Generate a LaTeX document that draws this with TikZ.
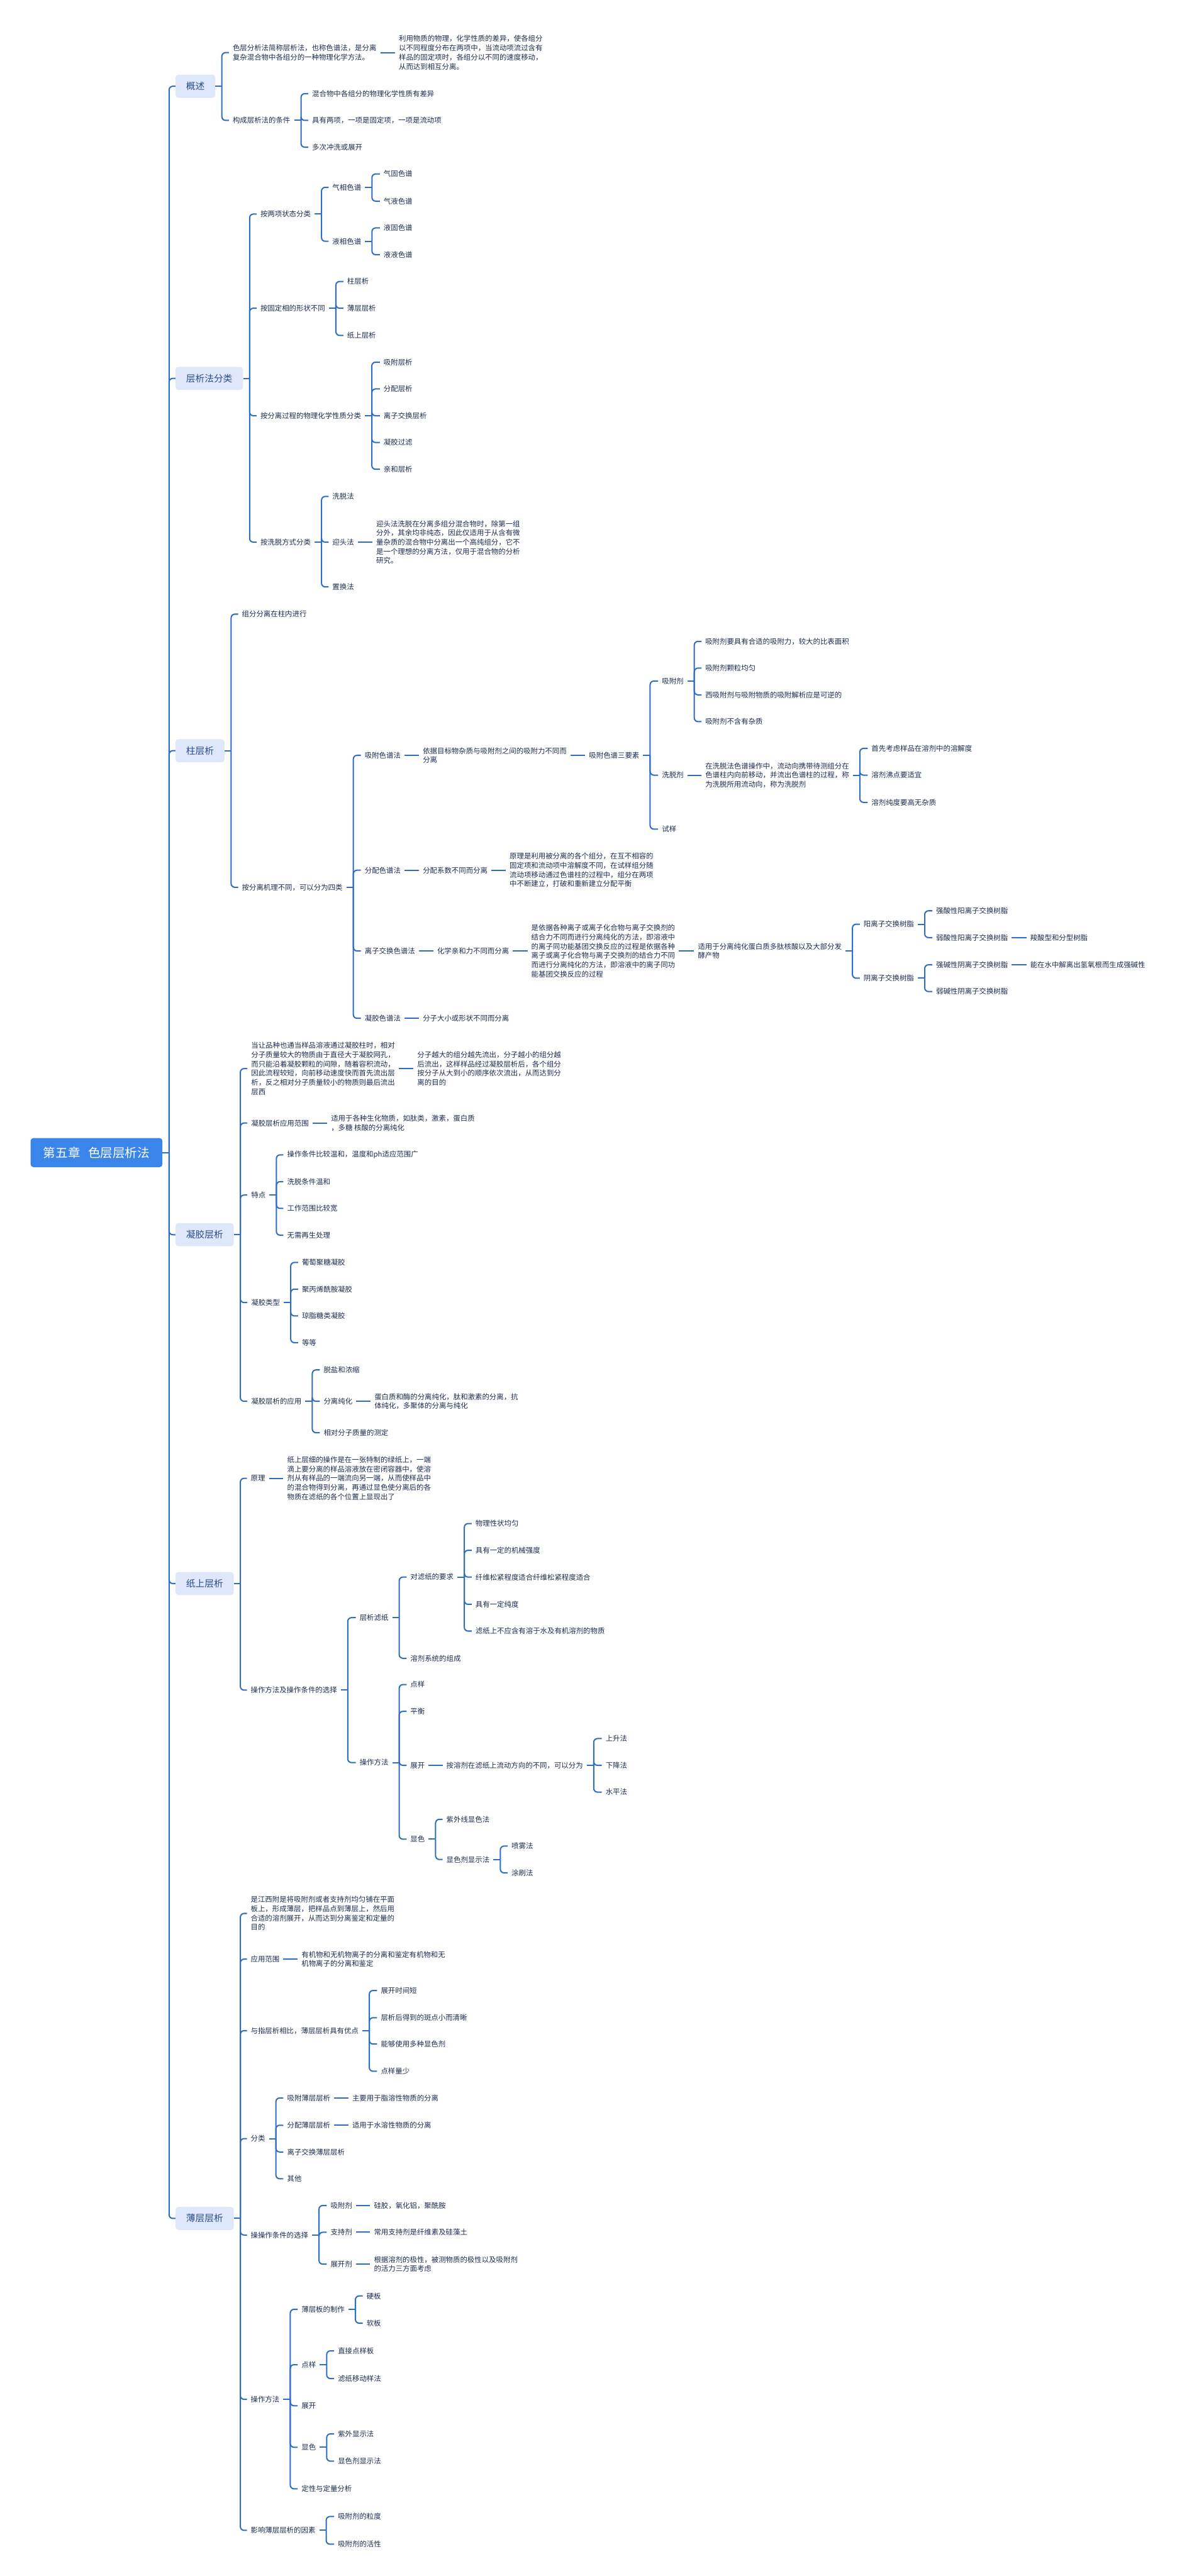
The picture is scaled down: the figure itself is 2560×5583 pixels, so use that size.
\documentclass[tikz,border=0pt]{standalone}
\usepackage{fontspec}
\setmainfont{Noto Sans CJK SC}
\usepackage{xcolor, tikz}
\definecolor{rootblue}{HTML}{3A85EA}
\definecolor{topicfill}{HTML}{DFE8FA}
\definecolor{topictext}{HTML}{2A4C8C}
\definecolor{leaftext}{HTML}{1C2B4F}
\definecolor{linkblue}{HTML}{2F6DC0}
\tikzstyle{rootbox} = [rectangle, rounded corners=0.12cm, fill=rootblue, text=white, font=\fontsize{15.2pt}{18pt}\selectfont, minimum height=1.26cm, inner xsep=0.55cm, anchor=west]
\tikzstyle{topic} = [rectangle, rounded corners=0.12cm, fill=topicfill, text=topictext, font=\fontsize{11.4pt}{14pt}\selectfont, minimum height=1cm, inner xsep=0.46cm, anchor=west]
\tikzstyle{leaf} = [inner xsep=0.16cm, inner ysep=0.04cm, text=leaftext, font=\fontsize{8.86pt}{11.4pt}\selectfont, align=left, anchor=west]
\tikzstyle{branch} = [draw=linkblue, line width=0.055cm, rounded corners=0.16cm]
\newcommand{\fork}[3]{\draw [branch] (#1.east) -- ++(#2,0);
  \foreach \kid in {#3} {\draw [branch] (#1.east) ++(#2,0) |- (\kid.west);}}

\begin{document}
\begin{tikzpicture}[x=0.02cm, y=-0.02cm]
\useasboundingbox (0,0) rectangle (2560,5583);

\node (root) [rootbox] at (66,2498) {第五章\hspace{0.34cm}色层层析法};
\node (gaishu) [topic] at (380,187) {概述};
\node (fenlei) [topic] at (380,820) {层析法分类};
\node (zhu) [topic] at (380,1627) {柱层析};
\node (ningjiao) [topic] at (380,2676) {凝胶层析};
\node (zhishang) [topic] at (380,3432) {纸上层析};
\node (bocheng) [topic] at (380,4808) {薄层层析};

% 概述
\node (gs1) [leaf] at (496,114) {色层分析法简称层析法，也称色谱法，是分离\\复杂混合物中各组分的一种物理化学方法。};
\node (gs1a) [leaf] at (856,114) {利用物质的物理，化学性质的差异，使各组分\\以不同程度分布在两项中，当流动项流过含有\\样品的固定项时，各组分以不同的速度移动，\\从而达到相互分离。};
\node (gs2) [leaf] at (496,261) {构成层析法的条件};
\node (gs2a) [leaf] at (668,203) {混合物中各组分的物理化学性质有差异};
\node (gs2b) [leaf] at (668,261) {具有两项，一项是固定项，一项是流动项};
\node (gs2c) [leaf] at (668,319) {多次冲洗或展开};

% 层析法分类
\node (fl1) [leaf] at (556,464) {按两项状态分类};
\node (fl1a) [leaf] at (712,406) {气相色谱};
\node (fl1a1) [leaf] at (823,377) {气固色谱};
\node (fl1a2) [leaf] at (823,436) {气液色谱};
\node (fl1b) [leaf] at (712,523) {液相色谱};
\node (fl1b1) [leaf] at (823,494) {液固色谱};
\node (fl1b2) [leaf] at (823,552) {液液色谱};
\node (fl2) [leaf] at (556,668) {按固定相的形状不同};
\node (fl2a) [leaf] at (744,610) {柱层析};
\node (fl2b) [leaf] at (744,668) {薄层层析};
\node (fl2c) [leaf] at (744,727) {纸上层析};
\node (fl3) [leaf] at (556,901) {按分离过程的物理化学性质分类};
\node (fl3a) [leaf] at (823,785) {吸附层析};
\node (fl3b) [leaf] at (823,843) {分配层析};
\node (fl3c) [leaf] at (823,901) {离子交换层析};
\node (fl3d) [leaf] at (823,959) {凝胶过滤};
\node (fl3e) [leaf] at (823,1017) {亲和层析};
\node (fl4) [leaf] at (556,1175) {按洗脱方式分类};
\node (fl4a) [leaf] at (712,1076) {洗脱法};
\node (fl4b) [leaf] at (712,1175) {迎头法};
\node (fl4c) [leaf] at (712,1272) {置换法};
\node (fl4b1) [leaf] at (807,1175) {迎头法洗脱在分离多组分混合物时，除第一组\\分外，其余均非纯态，因此仅适用于从含有微\\量杂质的混合物中分离出一个高纯组分，它不\\是一个理想的分离方法，仅用于混合物的分析\\研究。};

% 柱层析
\node (zh1) [leaf] at (516,1331) {组分分离在柱内进行};
\node (zh2) [leaf] at (516,1923) {按分离机理不同，可以分为四类};
\node (zh2a) [leaf] at (782,1637) {吸附色谱法};
\node (zh2a1) [leaf] at (908,1637) {依据目标物杂质与吸附剂之间的吸附力不同而\\分离};
\node (zh2a2) [leaf] at (1268,1637) {吸附色谱三要素};
\node (xfj) [leaf] at (1426,1476) {吸附剂};
\node (xfj1) [leaf] at (1520,1390) {吸附剂要具有合适的吸附力，较大的比表面积};
\node (xfj2) [leaf] at (1520,1448) {吸附剂颗粒均匀};
\node (xfj3) [leaf] at (1520,1506) {西吸附剂与吸附物质的吸附解析应是可逆的};
\node (xfj4) [leaf] at (1520,1564) {吸附剂不含有杂质};
\node (xtj) [leaf] at (1426,1680) {洗脱剂};
\node (xtj1) [leaf] at (1520,1680) {在洗脱法色谱操作中，流动向携带待测组分在\\色谱柱内向前移动，并流出色谱柱的过程，称\\为洗脱所用流动向，称为洗脱剂};
\node (xtj1a) [leaf] at (1880,1622) {首先考虑样品在溶剂中的溶解度};
\node (xtj1b) [leaf] at (1880,1680) {溶剂沸点要适宜};
\node (xtj1c) [leaf] at (1880,1739) {溶剂纯度要高无杂质};
\node (shiyang) [leaf] at (1426,1797) {试样};
\node (zh2b) [leaf] at (782,1886) {分配色谱法};
\node (zh2b1) [leaf] at (908,1886) {分配系数不同而分离};
\node (zh2b2) [leaf] at (1096,1886) {原理是利用被分离的各个组分，在互不相容的\\固定项和流动项中溶解度不同，在试样组分随\\流动项移动通过色谱柱的过程中，组分在两项\\中不断建立，打破和重新建立分配平衡};
\node (zh2c) [leaf] at (782,2061) {离子交换色谱法};
\node (zh2c1) [leaf] at (939,2061) {化学亲和力不同而分离};
\node (zh2c2) [leaf] at (1143,2061) {是依据各种离子或离子化合物与离子交换剂的\\结合力不同而进行分离纯化的方法，即溶液中\\的离子同功能基团交换反应的过程是依据各种\\离子或离子化合物与离子交换剂的结合力不同\\而进行分离纯化的方法，即溶液中的离子同功\\能基团交换反应的过程};
\node (zh2c3) [leaf] at (1504,2061) {适用于分离纯化蛋白质多肽核酸以及大部分发\\酵产物};
\node (yang) [leaf] at (1863,2003) {阳离子交换树脂};
\node (yang1) [leaf] at (2020,1974) {强酸性阳离子交换树脂};
\node (yang2) [leaf] at (2020,2032) {弱酸性阳离子交换树脂};
\node (yang2a) [leaf] at (2224,2032) {羧酸型和分型树脂};
\node (yin) [leaf] at (1863,2120) {阴离子交换树脂};
\node (yin1) [leaf] at (2020,2091) {强碱性阴离子交换树脂};
\node (yin1a) [leaf] at (2224,2091) {能在水中解离出氢氧根而生成强碱性};
\node (yin2) [leaf] at (2020,2149) {弱碱性阴离子交换树脂};
\node (zh2d) [leaf] at (782,2207) {凝胶色谱法};
\node (zh2d1) [leaf] at (908,2207) {分子大小或形状不同而分离};

% 凝胶层析
\node (nj1) [leaf] at (536,2316) {当让品种也通当样品溶液通过凝胶柱时，相对\\分子质量较大的物质由于直径大于凝胶网孔，\\而只能沿着凝胶颗粒的间隙，随着容积流动，\\因此流程较短，向前移动速度快而首先流出层\\析，反之相对分子质量较小的物质则最后流出\\层西};
\node (nj1a) [leaf] at (896,2316) {分子越大的组分越先流出，分子越小的组分越\\后流出，这样样品经过凝胶层析后，各个组分\\按分子从大到小的顺序依次流出，从而达到分\\离的目的};
\node (nj2) [leaf] at (536,2434) {凝胶层析应用范围};
\node (nj2a) [leaf] at (709,2434) {适用于各种生化物质，如肽类，激素，蛋白质\\，多糖 核酸的分离纯化};
\node (nj3) [leaf] at (536,2590) {特点};
\node (nj3a) [leaf] at (614,2503) {操作条件比较温和，温度和ph适应范围广};
\node (nj3b) [leaf] at (614,2561) {洗脱条件温和};
\node (nj3c) [leaf] at (614,2619) {工作范围比较宽};
\node (nj3d) [leaf] at (614,2677) {无需再生处理};
\node (nj4) [leaf] at (536,2823) {凝胶类型};
\node (nj4a) [leaf] at (646,2736) {葡萄聚糖凝胶};
\node (nj4b) [leaf] at (646,2794) {聚丙烯酰胺凝胶};
\node (nj4c) [leaf] at (646,2852) {琼脂糖类凝胶};
\node (nj4d) [leaf] at (646,2910) {等等};
\node (nj5) [leaf] at (536,3037) {凝胶层析的应用};
\node (nj5a) [leaf] at (693,2969) {脱盐和浓缩};
\node (nj5b) [leaf] at (693,3037) {分离纯化};
\node (nj5b1) [leaf] at (803,3037) {蛋白质和酶的分离纯化，肽和激素的分离，抗\\体纯化，多聚体的分离与纯化};
\node (nj5c) [leaf] at (693,3105) {相对分子质量的测定};

% 纸上层析
\node (zs1) [leaf] at (535,3204) {原理};
\node (zs1a) [leaf] at (614,3204) {纸上层细的操作是在一张特制的绿纸上，一端\\滴上要分离的样品溶液放在密闭容器中，使溶\\剂从有样品的一端流向另一端，从而使样品中\\的混合物得到分离，再通过显色使分离后的各\\物质在滤纸的各个位置上显现出了};
\node (zs2) [leaf] at (535,3663) {操作方法及操作条件的选择};
\node (zs2a) [leaf] at (771,3506) {层析滤纸};
\node (zs2a1) [leaf] at (881,3418) {对滤纸的要求};
\node (zs2a1a) [leaf] at (1022,3302) {物理性状均匀};
\node (zs2a1b) [leaf] at (1022,3360) {具有一定的机械强度};
\node (zs2a1c) [leaf] at (1022,3418) {纤维松紧程度适合纤维松紧程度适合};
\node (zs2a1d) [leaf] at (1022,3477) {具有一定纯度};
\node (zs2a1e) [leaf] at (1022,3535) {滤纸上不应含有溶于水及有机溶剂的物质};
\node (zs2a2) [leaf] at (881,3594) {溶剂系统的组成};
\node (zs2b) [leaf] at (771,3820) {操作方法};
\node (zs2b1) [leaf] at (881,3651) {点样};
\node (zs2b2) [leaf] at (881,3709) {平衡};
\node (zs2b3) [leaf] at (881,3826) {展开};
\node (zs2b3a) [leaf] at (959,3826) {按溶剂在滤纸上流动方向的不同，可以分为};
\node (zs2b3a1) [leaf] at (1304,3768) {上升法};
\node (zs2b3a2) [leaf] at (1304,3826) {下降法};
\node (zs2b3a3) [leaf] at (1304,3884) {水平法};
\node (zs2b4) [leaf] at (881,3986) {显色};
\node (zs2b4a) [leaf] at (959,3943) {紫外线显色法};
\node (zs2b4b) [leaf] at (959,4030) {显色剂显示法};
\node (zs2b4b1) [leaf] at (1100,4001) {喷雾法};
\node (zs2b4b2) [leaf] at (1100,4059) {涂刷法};

% 薄层层析
\node (bc1) [leaf] at (535,4147) {是江西附是将吸附剂或者支持剂均匀铺在平面\\板上，形成薄层，把样品点到薄层上，然后用\\合适的溶剂展开，从而达到分离鉴定和定量的\\目的};
\node (bc2) [leaf] at (535,4246) {应用范围};
\node (bc2a) [leaf] at (645,4246) {有机物和无机物离子的分离和鉴定有机物和无\\机物离子的分离和鉴定};
\node (bc3) [leaf] at (535,4401) {与指层析相比，薄层层析具有优点};
\node (bc3a) [leaf] at (817,4314) {展开时间短};
\node (bc3b) [leaf] at (817,4373) {层析后得到的斑点小而清晰};
\node (bc3c) [leaf] at (817,4430) {能够使用多种显色剂};
\node (bc3d) [leaf] at (817,4489) {点样量少};
\node (bc4) [leaf] at (535,4635) {分类};
\node (bc4a) [leaf] at (614,4547) {吸附薄层层析};
\node (bc4a1) [leaf] at (755,4547) {主要用于脂溶性物质的分离};
\node (bc4b) [leaf] at (614,4606) {分配薄层层析};
\node (bc4b1) [leaf] at (755,4606) {适用于水溶性物质的分离};
\node (bc4c) [leaf] at (614,4664) {离子交换薄层层析};
\node (bc4d) [leaf] at (614,4722) {其他};
\node (bc5) [leaf] at (535,4844) {操操作条件的选择};
\node (bc5a) [leaf] at (708,4780) {吸附剂};
\node (bc5a1) [leaf] at (802,4780) {硅胶，氧化铝，聚酰胺};
\node (bc5b) [leaf] at (708,4838) {支持剂};
\node (bc5b1) [leaf] at (802,4838) {常用支持剂是纤维素及硅藻土};
\node (bc5c) [leaf] at (708,4907) {展开剂};
\node (bc5c1) [leaf] at (802,4907) {根据溶剂的极性，被测物质的极性以及吸附剂\\的活力三方面考虑};
\node (bc6) [leaf] at (535,5200) {操作方法};
\node (bc6a) [leaf] at (645,5005) {薄层板的制作};
\node (bc6a1) [leaf] at (786,4976) {硬板};
\node (bc6a2) [leaf] at (786,5035) {软板};
\node (bc6b) [leaf] at (645,5125) {点样};
\node (bc6b1) [leaf] at (724,5095) {直接点样板};
\node (bc6b2) [leaf] at (724,5155) {滤纸移动样法};
\node (bc6c) [leaf] at (645,5214) {展开};
\node (bc6d) [leaf] at (645,5304) {显色};
\node (bc6d1) [leaf] at (724,5275) {紫外显示法};
\node (bc6d2) [leaf] at (724,5334) {显色剂显示法};
\node (bc6e) [leaf] at (645,5394) {定性与定量分析};
\node (bc7) [leaf] at (535,5484) {影响薄层层析的因素};
\node (bc7a) [leaf] at (724,5454) {吸附剂的粒度};
\node (bc7b) [leaf] at (724,5514) {吸附剂的活性};

% connectors
\fork{root}{14}{gaishu,fenlei,zhu,ningjiao,zhishang,bocheng}
\fork{gaishu}{14}{gs1,gs2}
\draw [branch] (gs1.east) -- (gs1a.west);
\fork{gs2}{15}{gs2a,gs2b,gs2c}
\fork{fenlei}{14}{fl1,fl2,fl3,fl4}
\fork{fl1}{15}{fl1a,fl1b}
\fork{fl1a}{15}{fl1a1,fl1a2}
\fork{fl1b}{15}{fl1b1,fl1b2}
\fork{fl2}{15}{fl2a,fl2b,fl2c}
\fork{fl3}{15}{fl3a,fl3b,fl3c,fl3d,fl3e}
\fork{fl4}{15}{fl4a,fl4b,fl4c}
\draw [branch] (fl4b.east) -- (fl4b1.west);
\fork{zhu}{14}{zh1,zh2}
\fork{zh2}{15}{zh2a,zh2b,zh2c,zh2d}
\draw [branch] (zh2a.east) -- (zh2a1.west);
\draw [branch] (zh2a1.east) -- (zh2a2.west);
\fork{zh2a2}{15}{xfj,xtj,shiyang}
\fork{xfj}{15}{xfj1,xfj2,xfj3,xfj4}
\draw [branch] (xtj.east) -- (xtj1.west);
\fork{xtj1}{15}{xtj1a,xtj1b,xtj1c}
\draw [branch] (zh2b.east) -- (zh2b1.west);
\draw [branch] (zh2b1.east) -- (zh2b2.west);
\draw [branch] (zh2c.east) -- (zh2c1.west);
\draw [branch] (zh2c1.east) -- (zh2c2.west);
\draw [branch] (zh2c2.east) -- (zh2c3.west);
\fork{zh2c3}{15}{yang,yin}
\fork{yang}{15}{yang1,yang2}
\draw [branch] (yang2.east) -- (yang2a.west);
\fork{yin}{15}{yin1,yin2}
\draw [branch] (yin1.east) -- (yin1a.west);
\draw [branch] (zh2d.east) -- (zh2d1.west);
\fork{ningjiao}{14}{nj1,nj2,nj3,nj4,nj5}
\draw [branch] (nj1.east) -- (nj1a.west);
\draw [branch] (nj2.east) -- (nj2a.west);
\fork{nj3}{15}{nj3a,nj3b,nj3c,nj3d}
\fork{nj4}{15}{nj4a,nj4b,nj4c,nj4d}
\fork{nj5}{15}{nj5a,nj5b,nj5c}
\draw [branch] (nj5b.east) -- (nj5b1.west);
\fork{zhishang}{14}{zs1,zs2}
\draw [branch] (zs1.east) -- (zs1a.west);
\fork{zs2}{15}{zs2a,zs2b}
\fork{zs2a}{15}{zs2a1,zs2a2}
\fork{zs2a1}{15}{zs2a1a,zs2a1b,zs2a1c,zs2a1d,zs2a1e}
\fork{zs2b}{15}{zs2b1,zs2b2,zs2b3,zs2b4}
\draw [branch] (zs2b3.east) -- (zs2b3a.west);
\fork{zs2b3a}{15}{zs2b3a1,zs2b3a2,zs2b3a3}
\fork{zs2b4}{15}{zs2b4a,zs2b4b}
\fork{zs2b4b}{15}{zs2b4b1,zs2b4b2}
\fork{bocheng}{14}{bc1,bc2,bc3,bc4,bc5,bc6,bc7}
\draw [branch] (bc2.east) -- (bc2a.west);
\fork{bc3}{15}{bc3a,bc3b,bc3c,bc3d}
\fork{bc4}{15}{bc4a,bc4b,bc4c,bc4d}
\draw [branch] (bc4a.east) -- (bc4a1.west);
\draw [branch] (bc4b.east) -- (bc4b1.west);
\fork{bc5}{15}{bc5a,bc5b,bc5c}
\draw [branch] (bc5a.east) -- (bc5a1.west);
\draw [branch] (bc5b.east) -- (bc5b1.west);
\draw [branch] (bc5c.east) -- (bc5c1.west);
\fork{bc6}{15}{bc6a,bc6b,bc6c,bc6d,bc6e}
\fork{bc6a}{15}{bc6a1,bc6a2}
\fork{bc6b}{15}{bc6b1,bc6b2}
\fork{bc6d}{15}{bc6d1,bc6d2}
\fork{bc7}{15}{bc7a,bc7b}

\end{tikzpicture}
\end{document}
